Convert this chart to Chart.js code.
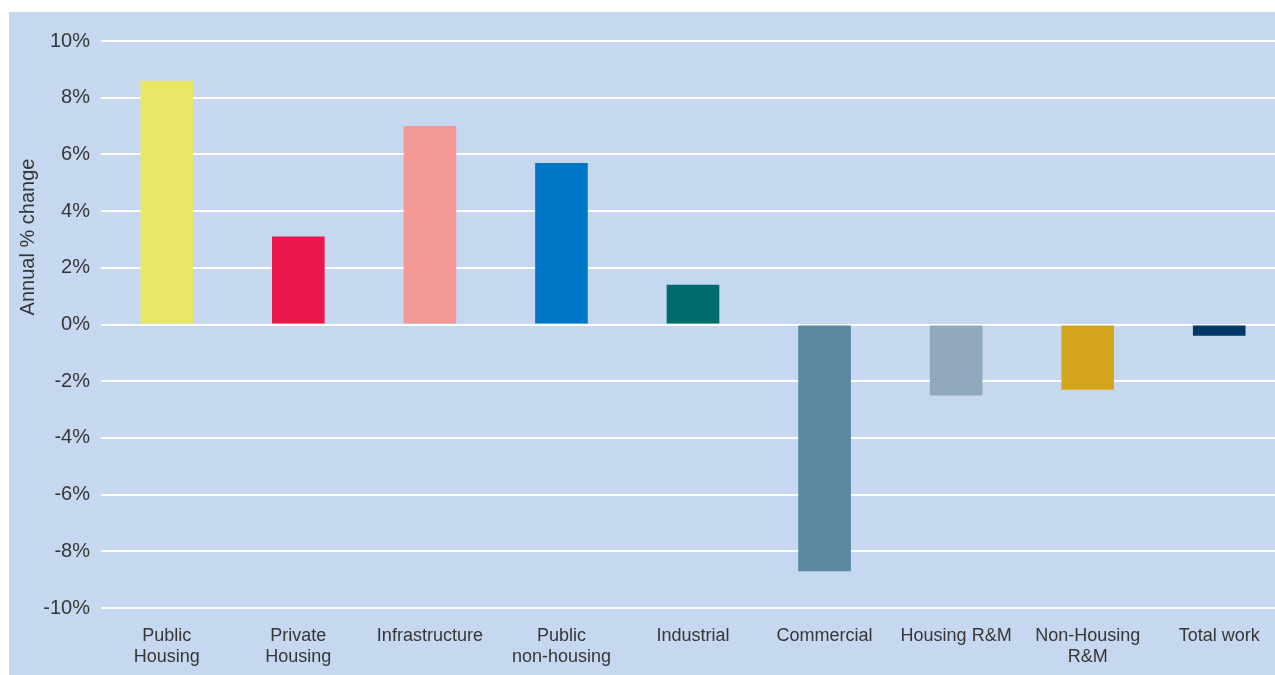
<!DOCTYPE html>
<html>
<head>
<meta charset="utf-8">
<script src="https://cdn.jsdelivr.net/npm/chart.js@4"></script>
<style>
  html, body { margin: 0; padding: 0; background: #fff; overflow: hidden; }
  #wrap { position: relative; width: 1290px; height: 675px; }
</style>
</head>
<body>
<div id="wrap"><canvas id="chart"></canvas></div>
<script>
const categories = [
    ['Public', 'Housing'], ['Private', 'Housing'], 'Infrastructure', ['Public', 'non-housing'],
    'Industrial', 'Commercial', 'Housing R&M', ['Non-Housing', 'R&M'], 'Total work'
];
const changeValues = [8.6, 3.1, 7.0, 5.7, 1.4, -8.7, -2.5, -2.3, -0.4];
const barColors = ['#e8e866', '#ec164b', '#f49896', '#0077c6', '#006b6c', '#5b87a1', '#90a9bf', '#d4a51c', '#01386a'];
const yMin = -10;
const yMax = 10;
const yStep = 2;
const yTitle = 'Annual % change';

const textColor = '#363636';
const fontFamily = '"Liberation Sans", Arial, Helvetica, sans-serif';

// blue panel behind the plot + rotated axis title
const panelPlugin = {
    id: 'panel',
    beforeDraw(chart) {
        const ctx = chart.ctx;
        ctx.save();
        ctx.fillStyle = '#c6d8ef';
        ctx.fillRect(9, 12, chart.width - 9, chart.height - 12);
        ctx.restore();
    },
    afterDraw(chart) {
        const ctx = chart.ctx;
        ctx.save();
        ctx.translate(28, 237);
        ctx.rotate(-Math.PI / 2);
        ctx.fillStyle = textColor;
        ctx.font = '20px ' + fontFamily;
        ctx.textAlign = 'center';
        ctx.textBaseline = 'middle';
        ctx.fillText(yTitle, 0, 0);
        ctx.restore();
    }
};

new Chart(document.getElementById('chart').getContext('2d'), {
    type: 'bar',
    data: {
        labels: categories,
        datasets: [{
            data: changeValues,
            backgroundColor: barColors,
            borderWidth: 0,
            categoryPercentage: 1,
            barPercentage: 0.4
        }]
    },
    options: {
        responsive: true,
        maintainAspectRatio: false,
        animation: false,
        layout: { padding: { top: 41, right: 5, bottom: 0, left: 0 } },
        plugins: {
            legend: { display: false },
            tooltip: { enabled: false }
        },
        scales: {
            x: {
                grid: { display: false, drawTicks: false },
                border: { display: false },
                ticks: {
                    color: textColor,
                    font: { family: fontFamily, size: 18, lineHeight: 1.2 },
                    padding: 17,
                    maxRotation: 0,
                    autoSkip: false
                },
                afterFit(scale) { scale.height = 67; }
            },
            y: {
                min: yMin,
                max: yMax,
                grid: { color: '#ffffff', lineWidth: 2, drawTicks: false },
                border: { display: false },
                ticks: {
                    stepSize: yStep,
                    color: textColor,
                    font: { family: fontFamily, size: 20 },
                    padding: 11,
                    callback: (v) => v + '%'
                },
                afterFit(scale) { scale.width = 101; }
            }
        }
    },
    plugins: [panelPlugin]
});
</script>
</body>
</html>
